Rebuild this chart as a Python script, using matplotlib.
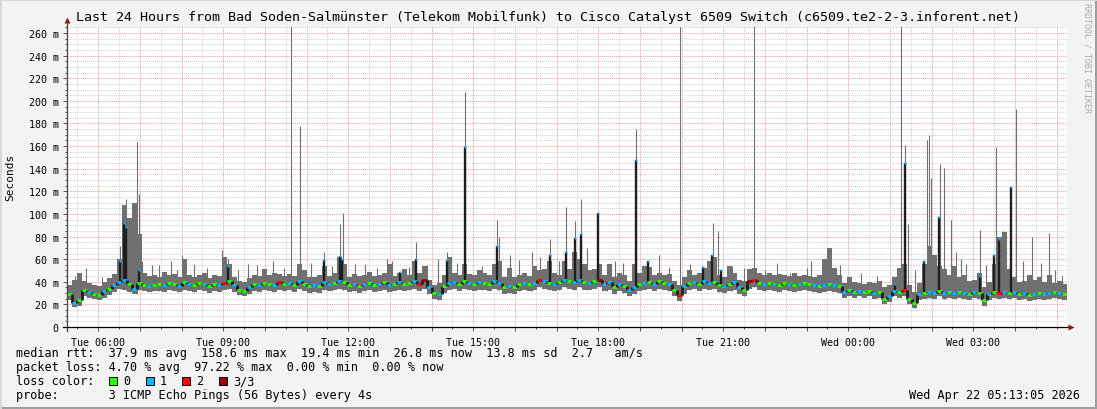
import numpy as np
import matplotlib
matplotlib.use('Agg')
import matplotlib.pyplot as plt
from matplotlib.collections import LineCollection
from matplotlib.patches import Rectangle
from matplotlib.lines import Line2D

plt.rcParams['font.family'] = ['DejaVu Sans Mono']

W, H = 1097, 410

# time axis: hours since Tue 00:00, 24 h window, 200 columns of 7.2 min
t0, t1 = 5.25, 29.25
dt = 0.12

median = [29, 21, 24, 33, 31, 29, 28, 32, 34, 37,
          40, 42, 38, 34, 39, 37, 36, 37, 38, 37,
          39, 38, 36, 40, 38, 37, 39, 38, 36, 38,
          37, 39, 41, 37, 33, 32, 35, 38, 37, 39,
          38, 37, 40, 38, 39, 37, 41, 38, 36, 37,
          36, 40, 38, 39, 41, 40, 37, 38, 36, 38,
          39, 37, 38, 40, 37, 38, 40, 38, 39, 41,
          38, 42, 35, 30, 29, 36, 39, 40, 38, 41,
          39, 38, 40, 39, 38, 41, 39, 35, 36, 35,
          38, 39, 38, 39, 42, 41, 39, 38, 40, 42,
          41, 40, 42, 40, 39, 41, 42, 38, 40, 35,
          38, 36, 33, 35, 38, 39, 40, 38, 41, 39,
          38, 33, 28, 36, 39, 40, 38, 41, 39, 40,
          37, 36, 38, 40, 35, 33, 41, 42, 39, 38,
          39, 38, 37, 39, 38, 37, 38, 39, 38, 37,
          36, 37, 38, 37, 36, 31, 33, 31, 32, 31,
          32, 30, 31, 25, 27, 32, 31, 33, 25, 21,
          29, 30, 31, 30, 32, 30, 31, 30, 31, 30,
          29, 31, 30, 24, 29, 31, 30, 31, 30, 31,
          29, 30, 28, 29, 30, 29, 30, 31, 30, 29]

smoke_hi = [37, 42, 48, 41, 39, 37, 36, 40, 43, 47,
            60, 108, 96, 110, 82, 48, 45, 46, 44, 49,
            46, 47, 44, 60, 46, 44, 46, 48, 43, 46,
            45, 62, 56, 44, 41, 40, 43, 46, 45, 51,
            46, 48, 47, 45, 47, 45, 56, 50, 44, 44,
            46, 54, 45, 48, 62, 56, 44, 47, 45, 46,
            49, 45, 46, 48, 56, 45, 48, 51, 46, 58,
            48, 54, 42, 37, 39, 46, 62, 48, 46, 56,
            47, 46, 50, 48, 46, 56, 58, 44, 52, 44,
            46, 48, 45, 54, 50, 51, 58, 48, 46, 58,
            51, 66, 60, 56, 50, 51, 56, 46, 56, 44,
            48, 46, 41, 56, 48, 54, 53, 46, 48, 46,
            47, 41, 37, 44, 50, 46, 48, 52, 58, 62,
            46, 44, 54, 48, 42, 41, 51, 52, 48, 46,
            48, 46, 47, 46, 45, 48, 45, 46, 45, 44,
            46, 60, 70, 52, 46, 39, 44, 40, 39, 38,
            40, 39, 41, 35, 37, 44, 52, 56, 37, 31,
            39, 56, 72, 64, 54, 51, 46, 54, 44, 46,
            41, 42, 48, 35, 40, 56, 80, 84, 51, 44,
            40, 41, 46, 42, 44, 40, 46, 39, 41, 38]

smoke_lo = [24, 18, 19, 27, 26, 25, 24, 26, 28, 31,
            34, 33, 31, 29, 33, 32, 31, 32, 32, 31,
            33, 32, 31, 33, 32, 31, 33, 32, 30, 32,
            31, 33, 34, 31, 28, 27, 29, 32, 31, 33,
            32, 31, 33, 32, 33, 31, 34, 32, 30, 31,
            30, 33, 32, 33, 34, 33, 31, 32, 30, 32,
            33, 31, 32, 33, 31, 32, 33, 32, 33, 34,
            32, 34, 29, 25, 24, 30, 33, 34, 32, 34,
            33, 32, 33, 33, 32, 34, 33, 29, 30, 29,
            32, 33, 32, 33, 35, 34, 33, 32, 33, 35,
            34, 33, 35, 33, 33, 34, 35, 32, 33, 29,
            32, 30, 27, 29, 32, 33, 34, 32, 34, 33,
            32, 27, 23, 29, 33, 34, 32, 34, 33, 34,
            31, 30, 32, 33, 29, 27, 34, 35, 33, 32,
            33, 32, 31, 33, 32, 31, 32, 33, 32, 31,
            30, 31, 32, 31, 30, 26, 27, 26, 27, 26,
            27, 25, 26, 20, 22, 27, 26, 27, 20, 17,
            24, 25, 26, 25, 27, 25, 26, 25, 26, 25,
            24, 26, 25, 19, 24, 26, 25, 26, 25, 26,
            24, 25, 23, 24, 25, 24, 25, 26, 25, 24]

loss = [0, 1, 0, 0, 1, 0, 0, 1, 0, 1, 1, 1, 0, 1, 0, 0, 1, 0, 0, 1,
        0, 0, 1, 0, 1, 0, 0, 1, 0, 0, 1, 2, 0, 1, 0, 0, 1, 0, 1, 0,
        0, 1, 2, 0, 1, 0, 1, 0, 0, 1, 0, 1, 1, 0, 1, 0, 0, 1, 0, 1,
        0, 0, 1, 0, 1, 0, 1, 0, 0, 1, 2, 3, 1, 0, 1, 0, 1, 1, 0, 0,
        1, 0, 1, 0, 0, 1, 1, 0, 1, 0, 0, 1, 0, 1, 2, 1, 0, 1, 0, 1,
        0, 1, 1, 0, 1, 0, 3, 1, 1, 0, 1, 0, 1, 1, 0, 1, 0, 1, 0, 0,
        1, 0, 2, 1, 0, 1, 0, 1, 1, 0, 0, 1, 0, 1, 1, 0, 3, 2, 0, 1,
        0, 1, 0, 0, 1, 0, 1, 0, 0, 1, 0, 1, 0, 1, 0, 1, 0, 0, 1, 0,
        0, 1, 0, 0, 1, 1, 0, 2, 0, 0, 1, 0, 1, 1, 0, 1, 0, 1, 0, 1,
        0, 1, 0, 0, 1, 0, 2, 1, 0, 1, 0, 1, 0, 1, 0, 1, 1, 0, 1, 0]

# single tall pings (gray)
spike_t = [6.52, 6.67, 6.76, 6.93, 6.98, 7.30, 7.75, 8.01, 8.97, 9.11, 9.60,
           10.63, 10.84, 11.42, 11.80, 11.87, 12.40, 12.93, 13.63, 14.37,
           14.80, 15.57, 15.62, 15.88, 16.40, 16.84, 17.23, 17.44, 17.59,
           17.73, 18.40, 18.91, 19.45, 19.96, 20.75, 20.87, 21.74, 22.30,
           23.10, 25.27, 25.36, 25.43, 25.89, 25.94, 25.99, 26.20, 26.30,
           26.47, 26.59, 26.83, 27.16, 27.55, 27.71, 28.03, 28.41, 28.63,
           28.82, 29.13]
spike_top = [72, 113, 92, 164, 118, 55, 58, 64, 68, 60, 56,
             268, 178, 66, 91, 101, 56, 60, 75, 66,
             208, 95, 80, 64, 66, 78, 106, 94, 113,
             70, 58, 175, 64, 268, 92, 85, 268, 57,
             58, 268, 161, 91, 165, 170, 132, 144, 141,
             95, 66, 56, 86, 159, 85, 193, 80, 57,
             83, 45]

# smaller jitter pings above the band
ping_t = [5.45, 5.70, 6.10, 7.05, 7.45, 7.90, 8.30, 8.60, 9.35, 9.80, 10.20,
          10.45, 11.10, 11.60, 12.15, 12.70, 13.05, 13.45, 13.90, 14.15,
          14.60, 15.20, 16.10, 16.60, 17.05, 18.20, 18.60, 19.70, 20.20,
          21.20, 21.50, 22.00, 22.60, 23.00, 23.80, 24.30, 24.70, 25.60,
          26.00, 26.70, 27.30, 27.85, 28.20, 28.95]
ping_top = [45, 52, 44, 58, 55, 50, 56, 52, 50, 55, 58,
            52, 57, 54, 56, 52, 58, 53, 55, 60,
            57, 54, 59, 62, 58, 55, 57, 53, 56,
            54, 52, 50, 48, 52, 55, 48, 45, 50,
            62, 60, 55, 52, 58, 50]

# columns where most pings were high (dark smoke)
dark_t = [6.52, 6.62, 6.67, 6.98, 9.11, 11.42, 11.80, 11.85, 13.24, 13.63,
          14.37, 14.80, 15.57, 16.84, 17.23, 17.44, 17.59, 18.00, 18.91,
          19.19, 20.51, 20.73, 20.94, 25.12, 25.36, 25.82, 26.17, 27.16,
          27.50, 27.62, 27.91]
dark_top = [58, 92, 88, 50, 54, 59, 63, 60, 49, 60,
            59, 159, 72, 64, 66, 79, 82, 101, 148,
            58, 53, 64, 50, 38, 145, 58, 97, 45,
            64, 78, 124]

loss_colors = {0: '#26ff00', 1: '#00b8ff', 2: '#ff0000', 3: '#a00000'}
legend_items = ['0', '1', '2', '3/3']

fig = plt.figure(figsize=(W / 100, H / 100), dpi=100)
fig.patch.set_facecolor('#f3f3f3')


def px(x, y):
    return x / W, 1 - y / H


ax = fig.add_axes([67 / W, 1 - 328 / H, 1000 / W, 300 / H])
ax.set_facecolor('white')
ymax = 300 / 294 * 260
ax.set_xlim(t0, t1)
ax.set_ylim(0, ymax)
for s in ax.spines.values():
    s.set_visible(False)

# grid
dot = (0, (1, 1))
for h in np.arange(5.5, 29.25, 0.5):
    if abs(h - round(h)) < 1e-6:
        ax.axvline(h, color='#f19a9a', lw=0.7, ls=dot, zorder=0)
    else:
        ax.axvline(h, color='#cfcfcf', lw=0.7, ls=dot, zorder=0)
for v in range(5, 266, 5):
    if v % 20 == 0:
        ax.axhline(v, color='#f19a9a', lw=0.7, ls=dot, zorder=0)
    else:
        ax.axhline(v, color='#cfcfcf', lw=0.7, ls=dot, zorder=0)

n = len(median)
tc = t0 + dt * np.arange(n)
med = np.array(median, float)
lo = np.array(smoke_lo, float)
hi = np.array(smoke_hi, float)

ax.bar(tc, hi - lo, bottom=lo, width=dt, align='edge', color='#707070',
       linewidth=0, zorder=2)

st = np.array(spike_t + ping_t)
stop = np.array(spike_top + ping_top)
si = np.clip(((st - t0) / dt).astype(int), 0, n - 1)
ax.vlines(st, lo[si], stop, color='#707070', lw=0.8, zorder=3)

dtt = np.array(dark_t)
di = np.clip(((dtt - t0) / dt).astype(int), 0, n - 1)
ax.vlines(dtt, med[di], dark_top, color='#1e1e1e', lw=1.7, zorder=4)

segs, cols = [], []
for i in range(n):
    c = loss_colors[loss[i]]
    if i > 0:
        segs.append([(tc[i], med[i - 1]), (tc[i], med[i])])
        cols.append('#1e1e1e')
    segs.append([(tc[i], med[i]), (tc[i] + dt, med[i])])
    cols.append(c)
ax.add_collection(LineCollection(segs, colors=cols, linewidths=2.0, zorder=5))
ax.plot(dtt, dark_top, 's', ms=1.6, mec='none', color=loss_colors[1], zorder=6)

# ticks
xt = np.arange(6, 29, 1.0)
ax.set_xticks(xt)
ax.set_xticklabels([('Tue ' if h < 24 else 'Wed ') + '%02d:00' % (h % 24)
                    if h % 3 == 0 else '' for h in xt.astype(int)])
ax.set_xticks(np.arange(5.5, 29.25, 0.5), minor=True)
yt = np.arange(0, 261, 20)
ax.set_yticks(yt)
ax.set_yticklabels(['0' if v == 0 else '%d m' % v for v in yt])
ax.set_yticks(np.arange(0, 266, 5), minor=True)
ax.tick_params(axis='both', which='major', labelsize=7.2, length=3, width=0.7,
               color='#555555', pad=3)
ax.tick_params(axis='both', which='minor', length=1.5, width=0.7, color='#555555')
ax.tick_params(axis='x', pad=4)

# axes lines with arrows
fig.add_artist(Line2D([67 / W, 67 / W], [1 - 332 / H, 1 - 24 / H],
                      color='#444444', lw=0.9))
fig.add_artist(Line2D([63 / W, 1070 / W], [1 - 328 / H, 1 - 328 / H],
                      color='#000000', lw=0.9))
fig.add_artist(Line2D([67 / W], [1 - 21 / H], marker='^', ms=5,
                      color='#8b1a1a', mec='none'))
fig.add_artist(Line2D([1071 / W], [1 - 328 / H], marker='>', ms=5,
                      color='#8b1a1a', mec='none'))

# frame
fig.add_artist(Rectangle((0, 0), 1, 2 / H, transform=fig.transFigure,
                         color='#9e9e9e', lw=0))
fig.add_artist(Rectangle((1 - 2 / W, 0), 2 / W, 1, transform=fig.transFigure,
                         color='#9e9e9e', lw=0))
fig.add_artist(Rectangle((0, 1 - 2 / H), 1, 2 / H, transform=fig.transFigure,
                         color='#d8d8d8', lw=0))
fig.add_artist(Rectangle((0, 0), 2 / W, 1, transform=fig.transFigure,
                         color='#d8d8d8', lw=0))

# texts
fig.text(*px(548, 18), 'Last 24 Hours from Bad Soden-Salmünster (Telekom Mobilfunk) '
         'to Cisco Catalyst 6509 Switch (c6509.te2-2-3.inforent.net)',
         ha='center', va='center', fontsize=9.6)
fig.text(*px(10, 177), 'Seconds', rotation=90, ha='center', va='center', fontsize=8)
fig.text(*px(1087, 58), 'RRDTOOL / TOBI OETIKER', rotation=270, ha='center',
         va='center', fontsize=6, color='#aaaaaa')

fs = 8.5
fig.text(*px(16, 354), 'median rtt:  37.9 ms avg  158.6 ms max  19.4 ms min  '
         '26.8 ms now  13.8 ms sd  2.7   am/s', va='center', fontsize=fs)
fig.text(*px(16, 368), 'packet loss: 4.70 % avg  97.22 % max  0.00 % min  0.00 % now',
         va='center', fontsize=fs)
fig.text(*px(16, 382), 'loss color:', va='center', fontsize=fs)
sq_x = [109, 146, 182, 219]
for k, x in enumerate(sq_x):
    fig.add_artist(Rectangle(px(x, 386), 8 / W, 8 / H, transform=fig.transFigure,
                             facecolor=loss_colors[k], edgecolor='black', lw=0.7))
    fig.text(*px(x + 14, 382), legend_items[k], va='center', fontsize=fs)
fig.text(*px(16, 396), 'probe:       3 ICMP Echo Pings (56 Bytes) every 4s',
         va='center', fontsize=fs)
fig.text(*px(1080, 396), 'Wed Apr 22 05:13:05 2026', ha='right', va='center',
         fontsize=fs)

fig.savefig('out.png', dpi=100, facecolor=fig.get_facecolor())
